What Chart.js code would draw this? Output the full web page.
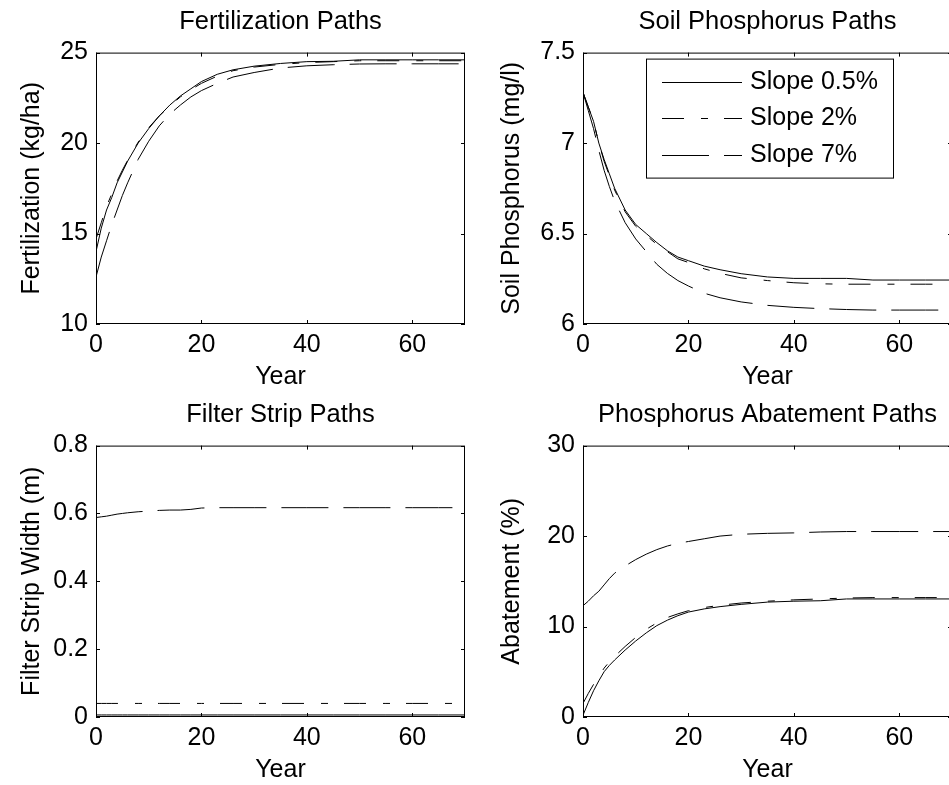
<!DOCTYPE html>
<html>
<head>
<meta charset="utf-8">
<title>Paths</title>
<script src="https://cdn.jsdelivr.net/npm/chart.js@4.4.1/dist/chart.umd.min.js"></script>
<style>
  html, body { margin: 0; padding: 0; background: #fff; overflow: hidden; width: 949px; height: 785px; }
  canvas { position: absolute; }
</style>
</head>
<body>
<canvas id="fertChart" width="475" height="392" style="left:0;top:0"></canvas>
<canvas id="soilChart" width="490" height="392" style="left:475px;top:0"></canvas>
<canvas id="stripChart" width="475" height="393" style="left:0;top:392px"></canvas>
<canvas id="abateChart" width="490" height="393" style="left:475px;top:392px"></canvas>
<script>
// Datos
const years = [0, 1, 2, 3, 4, 5, 6, 8, 10, 12, 14, 16, 18, 20, 23, 26, 30, 35, 40, 45, 50, 55, 60, 65, 70];
const seriesLabels = ['Slope 0.5%', 'Slope 2%', 'Slope 7%'];

const fert05 = [14.0, 15.3, 16.3, 17.0, 17.8, 18.4, 19.0, 20.0, 20.8, 21.5, 22.1, 22.6, 23.0, 23.4, 23.8, 24.05, 24.25, 24.4, 24.5, 24.52, 24.6, 24.6, 24.6, 24.6, 24.6];
const fert2 = [14.7, 15.6, 16.5, 17.2, 17.9, 18.5, 19.05, 20.05, 20.85, 21.5, 22.05, 22.55, 22.95, 23.3, 23.7, 24.0, 24.2, 24.35, 24.45, 24.5, 24.55, 24.55, 24.55, 24.55, 24.55];
const fert7 = [12.6, 13.7, 14.6, 15.5, 16.3, 17.1, 17.8, 19.1, 20.1, 20.95, 21.6, 22.1, 22.55, 22.9, 23.3, 23.65, 23.9, 24.15, 24.27, 24.33, 24.37, 24.38, 24.38, 24.38, 24.38];

const soil05 = [7.28, 7.2, 7.12, 7.0, 6.91, 6.83, 6.75, 6.63, 6.55, 6.5, 6.45, 6.405, 6.37, 6.35, 6.32, 6.3, 6.278, 6.26, 6.252, 6.252, 6.252, 6.243, 6.243, 6.243, 6.243];
const soil2 = [7.28, 7.2, 7.12, 7.0, 6.9, 6.82, 6.74, 6.62, 6.54, 6.49, 6.44, 6.4, 6.36, 6.34, 6.305, 6.28, 6.255, 6.24, 6.228, 6.222, 6.22, 6.22, 6.22, 6.22, 6.22];
const soil7 = [7.28, 7.18, 7.08, 6.96, 6.85, 6.76, 6.68, 6.56, 6.47, 6.4, 6.33, 6.28, 6.24, 6.21, 6.17, 6.145, 6.122, 6.103, 6.092, 6.085, 6.08, 6.077, 6.077, 6.077, 6.077];

const strip05 = [0.006, 0.006, 0.006, 0.006, 0.006, 0.006, 0.006, 0.006, 0.006, 0.006, 0.006, 0.006, 0.006, 0.006, 0.006, 0.006, 0.006, 0.006, 0.006, 0.006, 0.006, 0.006, 0.006, 0.006, 0.006];
const strip2 = [0.04, 0.04, 0.04, 0.04, 0.04, 0.04, 0.04, 0.04, 0.04, 0.04, 0.04, 0.04, 0.04, 0.04, 0.04, 0.04, 0.04, 0.04, 0.04, 0.04, 0.04, 0.04, 0.04, 0.04, 0.04];
const strip7 = [0.588, 0.59, 0.592, 0.595, 0.598, 0.6, 0.602, 0.605, 0.607, 0.609, 0.61, 0.61, 0.612, 0.616, 0.617, 0.617, 0.617, 0.617, 0.617, 0.617, 0.617, 0.617, 0.617, 0.617, 0.617];

const abate05 = [0.2, 1.6, 2.9, 4.0, 5.0, 5.7, 6.3, 7.4, 8.4, 9.3, 10.1, 10.7, 11.2, 11.6, 11.95, 12.2, 12.45, 12.7, 12.8, 12.85, 13.05, 13.05, 13.05, 13.05, 13.05];
const abate2 = [1.5, 2.6, 3.6, 4.5, 5.4, 6.1, 6.7, 7.8, 8.8, 9.7, 10.4, 11.0, 11.4, 11.75, 12.1, 12.35, 12.6, 12.8, 12.95, 13.05, 13.15, 13.2, 13.2, 13.2, 13.2];
const abate7 = [12.3, 12.8, 13.4, 13.9, 14.6, 15.3, 15.9, 16.7, 17.4, 18.0, 18.5, 18.9, 19.2, 19.4, 19.7, 20.0, 20.2, 20.3, 20.35, 20.45, 20.5, 20.5, 20.5, 20.5, 20.5];

// Ticks
const xTicks = [0, 20, 40, 60];
const fertTicks = [10, 15, 20, 25];
const soilTicks = [6, 6.5, 7, 7.5];
const stripTicks = [0, 0.2, 0.4, 0.6, 0.8];
const abateTicks = [0, 10, 20, 30];

const FONT = "'Liberation Sans', Arial, Helvetica, sans-serif";
const dashes = [[], [22, 17, 7, 16], [47, 15]];

// Caja del eje con marcas hacia dentro (estilo MATLAB)
const axisBoxPlugin = {
    id: 'axisBox',
    afterDraw(chart) {
        const { ctx, chartArea: a, scales } = chart;
        const x = scales.x, y = scales.y;
        ctx.save();
        ctx.strokeStyle = '#000';
        ctx.lineWidth = 1;
        ctx.strokeRect(a.left + 0.5, a.top + 0.5, a.right - a.left - 1, a.bottom - a.top - 1);
        ctx.beginPath();
        x.ticks.forEach(t => {
            const px = Math.round(x.getPixelForValue(t.value)) + 0.5;
            ctx.moveTo(px, a.bottom); ctx.lineTo(px, a.bottom - 4);
            ctx.moveTo(px, a.top); ctx.lineTo(px, a.top + 4);
        });
        y.ticks.forEach(t => {
            const py = Math.round(y.getPixelForValue(t.value)) + 0.5;
            ctx.moveTo(a.left, py); ctx.lineTo(a.left + 4, py);
            ctx.moveTo(a.right, py); ctx.lineTo(a.right - 4, py);
        });
        ctx.stroke();
        ctx.restore();
    }
};

// Leyenda dentro del área del gráfico
const slopeLegendPlugin = {
    id: 'slopeLegend',
    afterDraw(chart, args, opts) {
        if (!opts.display) return;
        const { ctx, chartArea: a } = chart;
        const bx = a.left + 63, by = a.top + 6, bw = 247, bh = 119;
        ctx.save();
        ctx.fillStyle = '#fff';
        ctx.fillRect(bx, by, bw, bh);
        ctx.strokeStyle = '#000';
        ctx.lineWidth = 1;
        ctx.strokeRect(bx + 0.5, by + 0.5, bw, bh);
        ctx.font = '25px ' + FONT;
        ctx.textBaseline = 'middle';
        chart.data.datasets.forEach((ds, i) => {
            const rowY = Math.round(by + 23 + i * 36.5) + 0.5;
            ctx.setLineDash(ds.borderDash);
            ctx.beginPath();
            ctx.moveTo(bx + 16, rowY);
            ctx.lineTo(bx + 96, rowY);
            ctx.stroke();
            ctx.setLineDash([]);
            ctx.fillStyle = '#000';
            ctx.fillText(ds.label, bx + 104, rowY);
        });
        ctx.restore();
    }
};

function buildChart(canvasId, title, yLabel, yTicks, series, axisWidth, rightPad, yTitlePad, titlePad, showLegend) {
    const font = { family: FONT, size: 25 };
    return new Chart(document.getElementById(canvasId), {
        type: 'line',
        data: {
            datasets: series.map((s, i) => ({
                label: seriesLabels[i],
                data: years.map((yr, k) => ({ x: yr, y: s[k] })),
                borderColor: '#000',
                borderWidth: 1,
                borderDash: dashes[i],
                pointRadius: 0,
                tension: 0,
                fill: false
            }))
        },
        options: {
            responsive: false,
            animation: false,
            events: [],
            layout: { padding: { left: 0, right: rightPad, top: 0, bottom: 0 } },
            plugins: {
                legend: { display: false },
                tooltip: { enabled: false },
                title: {
                    display: true,
                    text: title,
                    fullSize: false,
                    color: '#000',
                    font: { family: FONT, size: 25.5, weight: 'normal' },
                    padding: titlePad
                },
                slopeLegend: { display: showLegend }
            },
            scales: {
                x: {
                    type: 'linear',
                    min: 0,
                    max: 70,
                    afterBuildTicks: sc => { sc.ticks = xTicks.map(v => ({ value: v })); },
                    afterFit: sc => { sc.height = 68; },
                    grid: { display: false, drawTicks: false },
                    border: { display: false },
                    ticks: { padding: 6, color: '#000', font, maxRotation: 0, autoSkip: false, callback: v => String(v) },
                    title: { display: true, text: 'Year', color: '#000', font, padding: 0 }
                },
                y: {
                    type: 'linear',
                    min: yTicks[0],
                    max: yTicks[yTicks.length - 1],
                    afterBuildTicks: sc => { sc.ticks = yTicks.map(v => ({ value: v })); },
                    afterFit: sc => { sc.width = axisWidth; },
                    grid: { display: false, drawTicks: false },
                    border: { display: false },
                    ticks: { padding: 8, color: '#000', font, autoSkip: false, callback: v => String(v) },
                    title: { display: true, text: yLabel, color: '#000', font, padding: { top: yTitlePad, bottom: 0 } }
                }
            }
        },
        plugins: [axisBoxPlugin, slopeLegendPlugin]
    });
}

document.addEventListener('DOMContentLoaded', function() {
    buildChart('fertChart', 'Fertilization Paths', 'Fertilization (kg/ha)', fertTicks,
        [fert05, fert2, fert7], 96, 10, 17, { top: 7, bottom: 15 }, false);
    buildChart('soilChart', 'Soil Phosphorus Paths', 'Soil Phosphorus (mg/l)', soilTicks,
        [soil05, soil2, soil7], 108, 13, 22, { top: 7, bottom: 15 }, true);
    buildChart('stripChart', 'Filter Strip Paths', 'Filter Strip Width (m)', stripTicks,
        [strip05, strip2, strip7], 96, 10, 17, { top: 8, bottom: 15 }, false);
    buildChart('abateChart', 'Phosphorus Abatement Paths', 'Abatement (%)', abateTicks,
        [abate05, abate2, abate7], 108, 13, 22, { top: 8, bottom: 15 }, false);
});
</script>
</body>
</html>
